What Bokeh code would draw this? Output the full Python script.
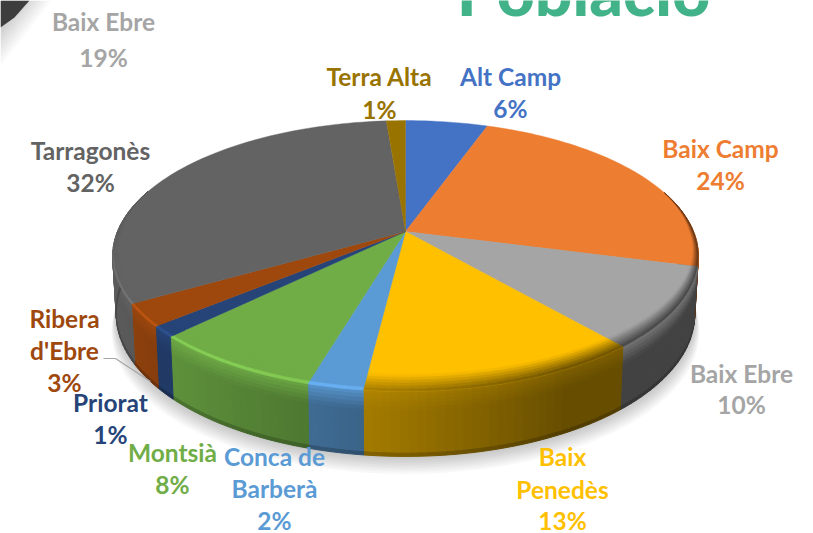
import math
from bokeh.plotting import figure
from bokeh.models import Range1d, ColumnDataSource
from bokeh.core.properties import value
from bokeh.embed import file_html
from bokeh.resources import INLINE

categories = ["Alt Camp", "Baix Camp", "Baix Ebre", "Baix Penedès", "Conca de Barberà",
              "Montsià", "Priorat", "Ribera d'Ebre", "Tarragonès", "Terra Alta"]
shares = [5.4, 23.7, 9.6, 13.2, 2.6, 8.1, 1.3, 2.7, 32.1, 1.25]
colors = ["#4472c4", "#ed7d31", "#a5a5a5", "#ffc000", "#5b9bd5",
          "#70ad47", "#264478", "#9e480e", "#636363", "#997300"]

title_text = "Població"
label_lines = [
    (["Baix Ebre", "19%"], "#a5a5a5", 103, [21, 57]),
    (["Terra Alta", "1%"], "#997300", 379, [76, 109]),
    (["Alt Camp", "6%"], "#4472c4", 510, [76, 108]),
    (["Baix Camp", "24%"], "#ed7d31", 720, [148, 180]),
    (["Baix Ebre", "10%"], "#a5a5a5", 741, [373, 404]),
    (["Baix", "Penedès", "13%"], "#ffc000", 562, [456, 489, 520]),
    (["Conca de", "Barberà", "2%"], "#5b9bd5", 274, [456, 488, 520]),
    (["Montsià", "8%"], "#70ad47", 172, [452, 484]),
    (["Priorat", "1%"], "#264478", 110, [402, 434]),
    (["Ribera", "d'Ebre", "3%"], "#9e480e", 64, [318, 350, 382]),
    (["Tarragonès", "32%"], "#636363", 90, [150, 182]),
]

CX, CY, A, B, K = 405.0, 231.0, 131.0, 288.0, 0.181
DEPTH = 56.5


def rgb(h):
    return tuple(int(h[i:i + 2], 16) for i in (1, 3, 5))


def mix(c1, c2, t):
    return tuple(c1[i] + (c2[i] - c1[i]) * t for i in range(3))


def scale(c, f):
    return tuple(min(255, c[i] * f) for i in range(3))


def hexs(c):
    return "#%02x%02x%02x" % tuple(int(round(max(0, min(255, v)))) for v in c)


def proj(theta, r=1.0, z=0.0):
    u = r * math.sin(theta)
    v = r * math.cos(theta)
    d = 1 + K * v
    x = CX + B * u / d * (1 - 0.012 * z)
    y = CY - A * v / d + z * DEPTH * (1 - 0.15 * v)
    return x, y


def side_factor(theta):
    u = math.sin(theta)
    return max(0.40, 0.6 - 0.42 * u) if u > 0 else 0.6 - 0.33 * u


def rim_width(theta):
    v = math.cos(theta)
    if v > 0.3:
        return 0.0
    return 0.014 * min(1.0, (0.3 - v) / 0.3) + 0.075 * max(0.0, -v) ** 1.5


def highlight(theta):
    u, v = math.sin(theta), math.cos(theta)
    return max(0.0, min(1.0, 0.5 - u)) * max(0.0, min(1.0, -v * 2))


total = sum(shares)
slices = []
acc = 0.0
for s, c in zip(shares, colors):
    a0 = acc / total * 2 * math.pi
    acc += s
    a1 = acc / total * 2 * math.pi
    n = max(2, int((a1 - a0) / math.radians(1.5)) + 1)
    slices.append(([a0 + (a1 - a0) * i / n for i in range(n + 1)], rgb(c)))

shadow_x, shadow_y, side_x, side_y, side_c = [], [], [], [], []
top_x, top_y, top_c = [], [], []
ring_x, ring_y, ring_c = [], [], []

# soft shadow under the pie
circle = [math.radians(d) for d in range(0, 360, 3)]
for k in range(1, 9):
    pts = [proj(t, 1.0, 1.0) for t in circle]
    shadow_x.append([CX + (x - CX) * (1 + 0.002 * k) for x, y in pts])
    shadow_y.append([y + 2.2 * k for x, y in pts])

M = 6
Z_BANDS = [0.0, 0.06, 0.12, 0.18, 0.24, 0.3, 0.95, 1.0]
for grid, col in slices:
    # side wall
    for t0, t1 in zip(grid[:-1], grid[1:]):
        tm = (t0 + t1) / 2
        if math.cos(tm) > 0.3:
            continue
        dark = scale(col, side_factor(tm))
        hi = highlight(tm)
        for j, (z0, z1) in enumerate(zip(Z_BANDS[:-1], Z_BANDS[1:])):
            if j < 5:
                top_tone = mix(col, dark, 0.5 - 0.35 * min(1.0, hi * 2.5)) if max(col) < 250 else mix(col, dark, 0.85)
                shade = mix(top_tone, dark, (j + 0.5) / 5)
            elif j == 5:
                shade = dark
            else:
                shade = scale(dark, 0.8)
            a = proj(t0, 1, z0); b = proj(t1, 1, z0); c = proj(t1, 1, z1); d = proj(t0, 1, z1)
            side_x.append([a[0], b[0], c[0], d[0]])
            side_y.append([a[1], b[1], c[1], d[1]])
            side_c.append(hexs(shade))
    # flat top
    pts = [proj(t) for t in grid]
    top_x.append([CX] + [p[0] for p in pts])
    top_y.append([CY] + [p[1] for p in pts])
    top_c.append(hexs(col))
    # bevelled rim
    for t0, t1 in zip(grid[:-1], grid[1:]):
        tm = (t0 + t1) / 2
        dr0, dr1 = rim_width(t0), rim_width(t1)
        if dr0 == 0.0 and dr1 == 0.0:
            continue
        dark = scale(col, side_factor(tm))
        hi = highlight(tm)
        gain = min(1 + 0.28 * hi, 255.0 / max(col))
        bright = scale(col, gain)
        for i in range(M):
            r00 = 1 - dr0 * (1 - i / M); r01 = 1 - dr0 * (1 - (i + 1) / M)
            r10 = 1 - dr1 * (1 - i / M); r11 = 1 - dr1 * (1 - (i + 1) / M)
            a = proj(t0, r00); b = proj(t1, r10); c = proj(t1, r11); d = proj(t0, r01)
            tt = (i + 0.5) / M
            base = mix(col, dark, tt)
            if tt < 0.75:
                lit = mix(col, col, tt)
            else:
                lit = mix(col, bright, (tt - 0.75) / 0.25)
            shade = mix(base, lit, min(1.0, hi * 2.5) * (1.0 if gain > 1.02 else 0.0))
            ring_x.append([a[0], b[0], c[0], d[0]])
            ring_y.append([a[1], b[1], c[1], d[1]])
            ring_c.append(hexs(shade))

p = figure(width=813, height=533, output_backend="svg", toolbar_location=None,
           x_range=Range1d(0, 813), y_range=Range1d(533, 0), min_border=0)
p.axis.visible = False
p.grid.visible = False
p.outline_line_color = None

# corner decoration
for k in range(12):
    e = 66 - k * 3.2
    p.patch([0, e * 0.78, 0], [0, 0, e], fill_color="#000000", fill_alpha=0.014, line_color=None)
p.patch([0, 29, 14, 0], [0, 0, 17, 27], fill_color="#3d3d3d", line_color=None)

p.patches(shadow_x, shadow_y, fill_color="#000000", fill_alpha=0.028, line_color=None)
p.patches("x", "y", source=ColumnDataSource(dict(x=side_x, y=side_y, c=side_c)),
          fill_color="c", line_color="c", line_width=1)
p.patches("x", "y", source=ColumnDataSource(dict(x=top_x, y=top_y, c=top_c)),
          fill_color="c", line_color="c", line_width=0.4)
p.patches("x", "y", source=ColumnDataSource(dict(x=ring_x, y=ring_y, c=ring_c)),
          fill_color="c", line_color="c", line_width=0.6)

p.line([103, 115, 150], [358, 358, 381], line_color="#a6a6a6", line_width=1.2)

tx, ty, tt_, tc = [], [], [], []
for lines, c, xc, ys in label_lines:
    for s, yy in zip(lines, ys):
        tx.append(xc); ty.append(yy); tt_.append(s); tc.append(c)
p.text("x", "y", text="t", source=ColumnDataSource(dict(x=tx, y=ty, t=tt_, c=tc)),
       text_color="c", text_font=value("Lato"), text_font_style="bold",
       text_font_size="24.5px", text_align="center", text_baseline="middle")

p.text([583], [15], text=[title_text], text_color="#42b389", text_font=value("Lato Black"),
       text_font_style="bold", text_font_size="66px", text_align="center",
       text_baseline="alphabetic", y_offset=-25)

open("out.html", "w").write(file_html(p, INLINE))
